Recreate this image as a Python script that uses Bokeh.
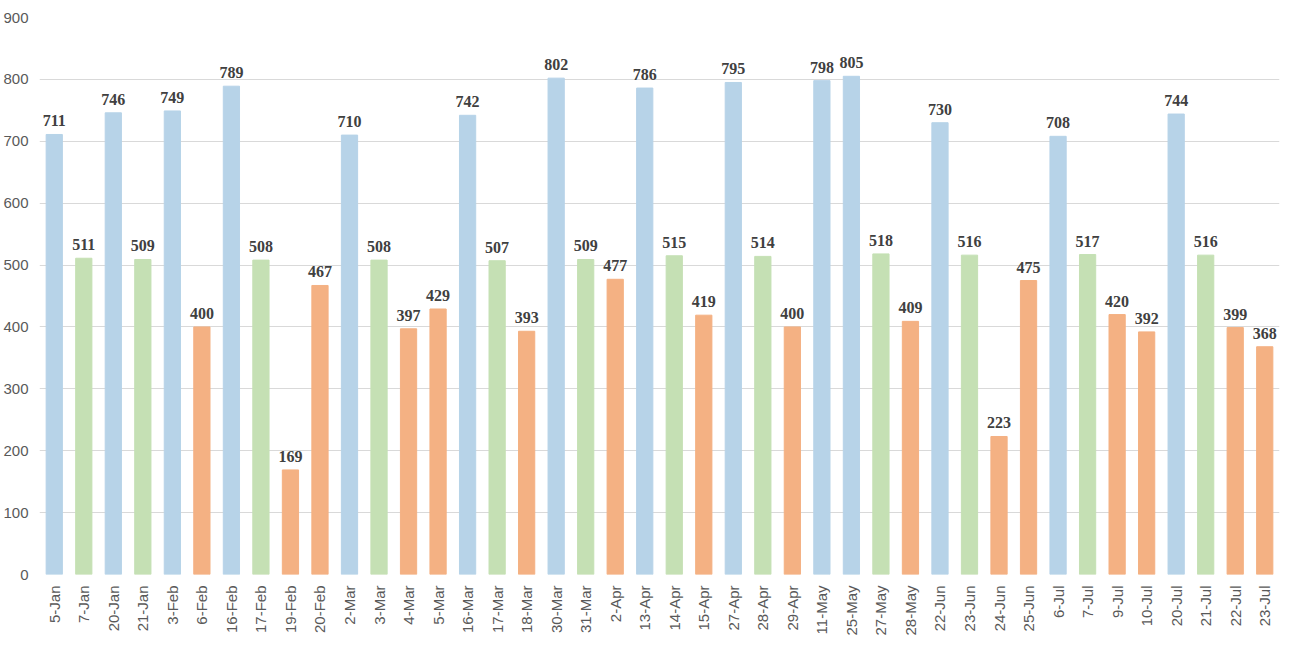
from bokeh.plotting import figure
from bokeh.models import ColumnDataSource, FixedTicker, LabelSet
from bokeh.embed import file_html
from bokeh.resources import INLINE
import math

dates = ["5-Jan","7-Jan","20-Jan","21-Jan","3-Feb","6-Feb","16-Feb","17-Feb","19-Feb","20-Feb",
         "2-Mar","3-Mar","4-Mar","5-Mar","16-Mar","17-Mar","18-Mar","30-Mar","31-Mar","2-Apr",
         "13-Apr","14-Apr","15-Apr","27-Apr","28-Apr","29-Apr","11-May","25-May","27-May","28-May",
         "22-Jun","23-Jun","24-Jun","25-Jun","6-Jul","7-Jul","9-Jul","10-Jul","20-Jul","21-Jul",
         "22-Jul","23-Jul"]
values = [711,511,746,509,749,400,789,508,169,467,
          710,508,397,429,742,507,393,802,509,477,
          786,515,419,795,514,400,798,805,518,409,
          730,516,223,475,708,517,420,392,744,516,
          399,368]
groups = ["high" if v >= 700 else ("mid" if v >= 500 else "low") for v in values]
palette = {"high": "#b7d3e8", "mid": "#c5e0b4", "low": "#f4b183"}

src = ColumnDataSource(dict(x=dates, top=values, color=[palette[g] for g in groups],
                            label=[str(v) for v in values]))

p = figure(x_range=dates, y_range=(0, 900), width=1281, height=638,
           output_backend="svg", toolbar_location=None, min_border_left=28,
           min_border_right=2, min_border_top=17)
p.vbar(x="x", top="top", width=0.55, color="color", source=src)
p.add_layout(LabelSet(x="x", y="top", text="label", source=src, text_align="center",
                      y_offset=8, text_font="Liberation Sans", text_font_style="bold",
                      text_font_size="16px", text_color="#404040"))
p.yaxis.ticker = FixedTicker(ticks=list(range(0, 901, 100)))
for ax in (p.xaxis, p.yaxis):
    ax.axis_line_color = None
    ax.major_tick_line_color = None
    ax.minor_tick_line_color = None
    ax.major_label_text_font = "Liberation Sans"
    ax.major_label_text_font_size = "15px"
    ax.major_label_text_color = "#595959"
p.xaxis.major_label_orientation = math.pi / 2
p.xgrid.grid_line_color = None
p.ygrid.grid_line_color = "#d9d9d9"
p.outline_line_color = None
p.x_range.range_padding = 0.0

open("out.html", "w").write(file_html(p, INLINE))
